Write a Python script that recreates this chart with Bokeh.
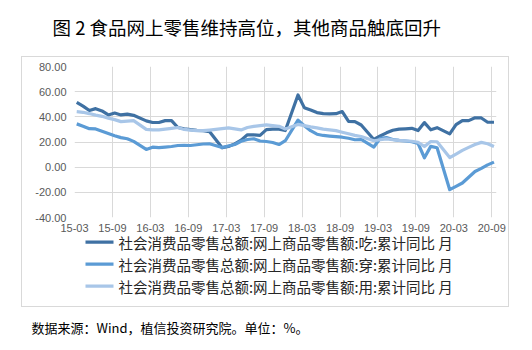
from bokeh.plotting import figure
from bokeh.models import (ColumnDataSource, Range1d, FixedTicker, NumeralTickFormatter,
                          InlineStyleSheet)
from bokeh.core.properties import value
from bokeh.layouts import column
from bokeh.embed import file_html
from bokeh.resources import INLINE

# ---------------- data (monthly, January merged into February) ----------------
months = [
    "2015-03", "2015-04", "2015-05", "2015-06", "2015-07", "2015-08", "2015-09", "2015-10", "2015-11", "2015-12",
    "2016-02", "2016-03", "2016-04", "2016-05", "2016-06", "2016-07", "2016-08", "2016-09", "2016-10", "2016-11", "2016-12",
    "2017-02", "2017-03", "2017-04", "2017-05", "2017-06", "2017-07", "2017-08", "2017-09", "2017-10", "2017-11", "2017-12",
    "2018-02", "2018-03", "2018-04", "2018-05", "2018-06", "2018-07", "2018-08", "2018-09", "2018-10", "2018-11", "2018-12",
    "2019-02", "2019-03", "2019-04", "2019-05", "2019-06", "2019-07", "2019-08", "2019-09", "2019-10", "2019-11", "2019-12",
    "2020-02", "2020-03", "2020-04", "2020-05", "2020-06", "2020-07", "2020-08", "2020-09",
]

eat = [
    51.5, 48.5, 45.0, 46.5, 44.7, 41.5, 43.0, 41.5, 42.2, 41.2,
    36.8, 35.5, 35.5, 37.0, 37.0, 31.5, 30.5, 29.8, 29.3, 29.0, 28.3,
    15.4, 16.5, 18.5, 21.5, 25.7, 25.7, 25.3, 29.8, 30.2, 30.2, 29.1,
    57.4, 47.3, 45.5, 43.4, 42.5, 42.3, 42.5, 44.2, 36.4, 36.2, 33.5,
    22.0, 24.8, 27.3, 29.3, 30.2, 30.5, 30.9, 29.1, 35.4, 29.7, 31.4,
    26.5, 33.8, 37.0, 37.0, 39.2, 39.1, 35.7, 35.7,
]

wear = [
    34.4, 32.6, 30.6, 30.4, 28.6, 26.8, 25.0, 23.5, 22.6, 20.5,
    14.1, 15.9, 15.6, 16.0, 16.4, 17.2, 17.4, 17.2, 17.8, 18.4, 18.6,
    15.6, 16.8, 18.0, 20.6, 22.0, 22.6, 20.8, 20.4, 19.6, 18.0, 21.0,
    37.4, 33.0, 29.0, 26.2, 25.2, 24.7, 24.2, 23.8, 23.0, 21.8, 22.0,
    16.0, 23.0, 23.5, 22.0, 21.3, 20.8, 20.2, 18.8, 7.5, 16.5, 15.4,
    -17.9, -15.2, -12.6, -8.0, -3.4, -1.0, 1.8, 4.0,
]

use = [
    44.1, 43.6, 42.6, 41.4, 40.4, 39.0, 37.8, 36.2, 36.6, 37.0,
    30.0, 29.6, 29.6, 30.2, 30.8, 31.5, 30.0, 29.4, 29.0, 29.0, 29.5,
    30.6, 31.2, 30.4, 29.6, 31.5, 32.4, 33.0, 33.6, 33.0, 32.5, 30.4,
    34.0, 33.0, 32.0, 31.2, 30.2, 29.6, 29.0, 27.8, 26.5, 25.3, 24.4,
    21.0, 21.8, 22.5, 21.8, 21.3, 21.0, 20.6, 19.8, 16.4, 20.4, 20.2,
    7.6, 10.4, 13.3, 15.7, 18.0, 19.7, 18.6, 16.5,
]

series_names = [
    "社会消费品零售总额:网上商品零售额:吃:累计同比 月",
    "社会消费品零售总额:网上商品零售额:穿:累计同比 月",
    "社会消费品零售总额:网上商品零售额:用:累计同比 月",
]
series_colors = ["#3F71A3", "#5B9BD5", "#A8C6E8"]

tick_labels = ["15-03", "15-09", "16-03", "16-09", "17-03", "17-09",
               "18-03", "18-09", "19-03", "19-09", "20-03", "20-09"]
y_ticks = [-40, -20, 0, 20, 40, 60, 80]

title_text = "图 2 食品网上零售维持高位，其他商品触底回升"
source_text = "数据来源：Wind，植信投资研究院。单位：%。"

# month index since 2015-03
def month_index(s):
    y, m = s.split("-")
    return (int(y) - 2015) * 12 + int(m) - 3

x = [month_index(s) for s in months]
src = ColumnDataSource(dict(x=x, eat=eat, wear=wear, use=use))

W = 532
H_TOP, H_MID, H_BOT, OVERLAP = 56, 180, 128, 14     # stacked strips of the 532x350 page

def blank_strip(h, y_top):
    f = figure(width=W, height=h, output_backend="svg", toolbar_location=None,
               x_axis_type=None, y_axis_type=None,
               x_range=Range1d(0, W), y_range=Range1d(y_top + h, y_top),
               min_border=0, min_border_left=0, min_border_right=0,
               min_border_top=0, min_border_bottom=0, frame_align=False,
               background_fill_color=None, border_fill_color=None)
    f.outline_line_color = None
    return f

# ---------------- title strip ----------------
t = blank_strip(H_TOP, 0)
t.text(x=[52], y=[26], text=[title_text], text_font=value("Noto Sans CJK SC"),
       text_font_size="18.5px", text_color="#000000", text_baseline="middle", text_align="left")

# ---------------- chart ----------------
FL, FR, FT, FB = 74, 36, 10, 19
p = figure(width=W, height=H_MID, output_backend="svg", toolbar_location=None,
           x_range=Range1d(-0.35, 66.4), y_range=Range1d(-40, 80),
           min_border_left=FL, min_border_right=FR, min_border_top=FT, min_border_bottom=FB,
           frame_align=False,
           background_fill_color="white", border_fill_color="white")
p.outline_line_color = None

tick_pos = [6 * k - 0.35 for k in range(len(tick_labels))]
p.xaxis.ticker = FixedTicker(ticks=tick_pos)
p.xaxis.major_label_overrides = {t_: lab for t_, lab in zip(tick_pos, tick_labels)}
p.yaxis.ticker = FixedTicker(ticks=y_ticks)
p.yaxis.formatter = NumeralTickFormatter(format="0.00")

for ax in (p.xaxis[0], p.yaxis[0]):
    ax.axis_line_color = None
    ax.major_tick_line_color = None
    ax.minor_tick_line_color = None
    ax.major_tick_out = 0
    ax.major_tick_in = 0
    ax.major_label_text_font = "Liberation Sans"
    ax.major_label_text_font_size = "11px"
    ax.major_label_text_color = "#595959"
p.yaxis.major_label_standoff = 8
p.xaxis.major_label_standoff = 6

p.xgrid.grid_line_color = "#D9D9D9"
p.ygrid.grid_line_color = "#D9D9D9"

for col, color in zip(["eat", "wear", "use"], series_colors):
    p.line("x", col, source=src, line_color=color, line_width=3.2, line_join="round")

# ---------------- legend + source strip (slightly overlapping the axis strip) ----------------
y0 = H_TOP + H_MID - OVERLAP
q = blank_strip(H_BOT, y0)
q.margin = (-OVERLAP, 0, 0, 0)
leg_y = [241.7, 263.7, 285.7]
leg = ColumnDataSource(dict(x0=[85] * 3, x1=[113] * 3, tx=[118] * 3, y=leg_y,
                            name=series_names, color=series_colors))
q.segment(x0="x0", x1="x1", y0="y", y1="y", source=leg, line_color="color", line_width=3.2)
q.text(x="tx", y="y", text="name", source=leg, text_font=value("Noto Sans CJK SC"),
       text_font_size="14.5px", text_color="#262626", text_baseline="middle", text_align="left")
q.text(x=[31], y=[327], text=[source_text], text_font=value("Noto Sans CJK SC"),
       text_font_size="13px", text_color="#000000", text_baseline="middle", text_align="left")

page = column(t, p, q, spacing=0)
# light grey frame round the chart body
page.stylesheets = [InlineStyleSheet(css=(
    ":host { position: relative; } "
    ":host::after { content: ''; position: absolute; left: 21px; top: 56px; "
    "width: 486px; height: 249px; border: 1px solid #D9D9D9; pointer-events: none; }"))]

open("out.html", "w").write(file_html(page, INLINE))
